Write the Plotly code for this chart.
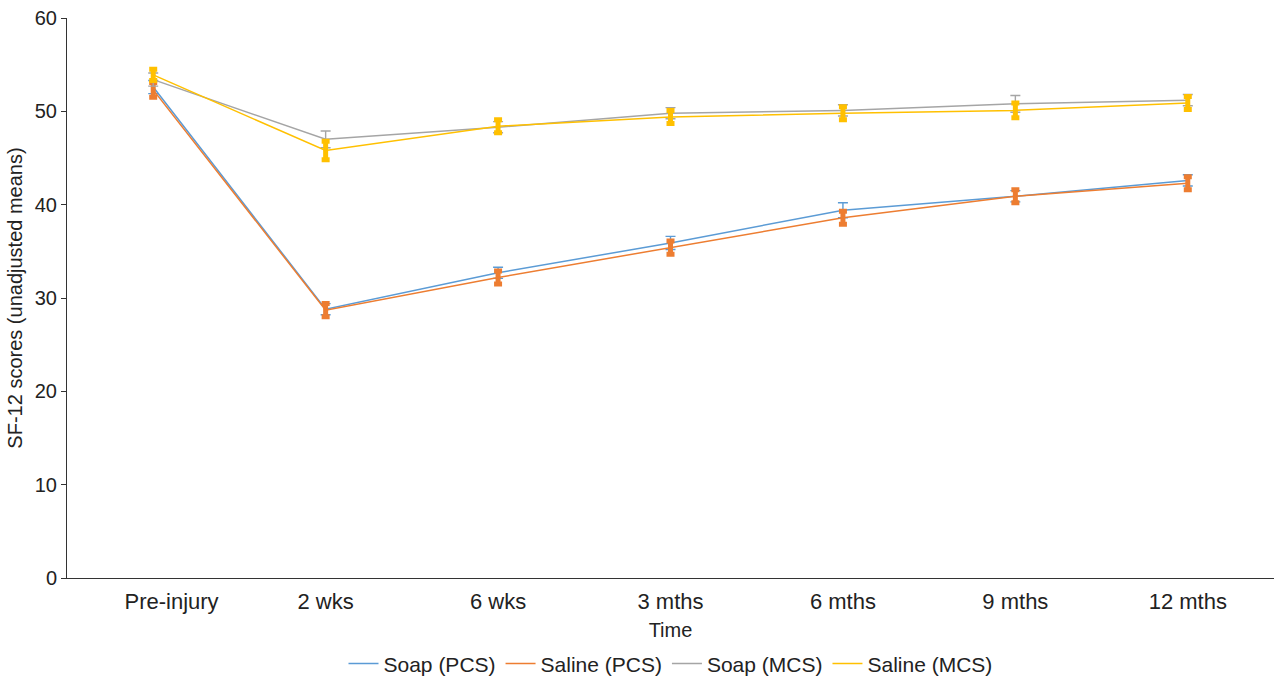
import plotly.graph_objects as go

categories = ["Pre-injury", "2 wks", "6 wks", "3 mths", "6 mths", "9 mths", "12 mths"]
tick_labels = ["\u00a0\u00a0\u00a0\u00a0\u00a0\u00a0Pre-injury", "2 wks", "6 wks", "3 mths", "6 mths", "9 mths", "12 mths"]

soap_pcs = [52.6, 28.8, 32.7, 35.9, 39.4, 40.9, 42.6]
saline_pcs = [52.3, 28.7, 32.2, 35.4, 38.6, 40.9, 42.3]
soap_mcs = [53.4, 47.0, 48.3, 49.8, 50.1, 50.8, 51.2]
saline_mcs = [53.9, 45.8, 48.4, 49.4, 49.8, 50.1, 50.9]

soap_pcs_err = [0.7, 0.6, 0.6, 0.7, 0.8, 0.6, 0.6]
saline_pcs_err = [0.8, 0.7, 0.7, 0.7, 0.7, 0.7, 0.7]
soap_mcs_err = [0.7, 0.9, 0.6, 0.6, 0.6, 0.9, 0.6]
saline_mcs_err = [0.6, 1.0, 0.7, 0.7, 0.7, 0.8, 0.7]

series = [
    ("Soap (PCS)", soap_pcs, soap_pcs_err, "#5B9BD5", 1.4, 5),
    ("Saline (PCS)", saline_pcs, saline_pcs_err, "#ED7D31", 5, 4),
    ("Soap (MCS)", soap_mcs, soap_mcs_err, "#A5A5A5", 1.4, 5),
    ("Saline (MCS)", saline_mcs, saline_mcs_err, "#FFC000", 5, 4),
]

fig = go.Figure()
for name, vals, errs, color, thick, w in series:
    fig.add_trace(go.Scatter(
        x=categories, y=vals, name=name, mode="lines",
        line=dict(color=color, width=1.5),
        error_y=dict(type="data", array=errs, visible=True,
                     color=color, thickness=thick, width=w),
    ))

fig.update_layout(
    width=1275, height=676,
    margin=dict(l=67, r=1, t=18, b=98),
    paper_bgcolor="white", plot_bgcolor="white",
    font=dict(family="Liberation Sans, Arial, sans-serif", size=20, color="#222222"),
    showlegend=True,
    legend=dict(orientation="h", x=0.5, xanchor="center",
                yref="container", y=0.018, yanchor="middle",
                font=dict(size=21), traceorder="normal"),
    xaxis=dict(
        type="category", range=[-0.5, 6.5],
        tickmode="array", tickvals=categories, ticktext=tick_labels,
        showline=True, linecolor="#333333", linewidth=1,
        showgrid=False, ticks="outside", ticklen=4, tickcolor="rgba(0,0,0,0)",
        zeroline=False,
        title=dict(text="Time", standoff=9, font=dict(size=20)),
        tickfont=dict(size=22),
    ),
    yaxis=dict(
        range=[0, 60], dtick=10,
        showline=True, linecolor="#333333", linewidth=1,
        showgrid=False, ticks="outside", ticklen=5, tickcolor="#333333",
        zeroline=False,
        title=dict(text="SF-12 scores (unadjusted means)", standoff=6, font=dict(size=20)),
        tickfont=dict(size=20),
    ),
)

fig.write_html("out.html")
